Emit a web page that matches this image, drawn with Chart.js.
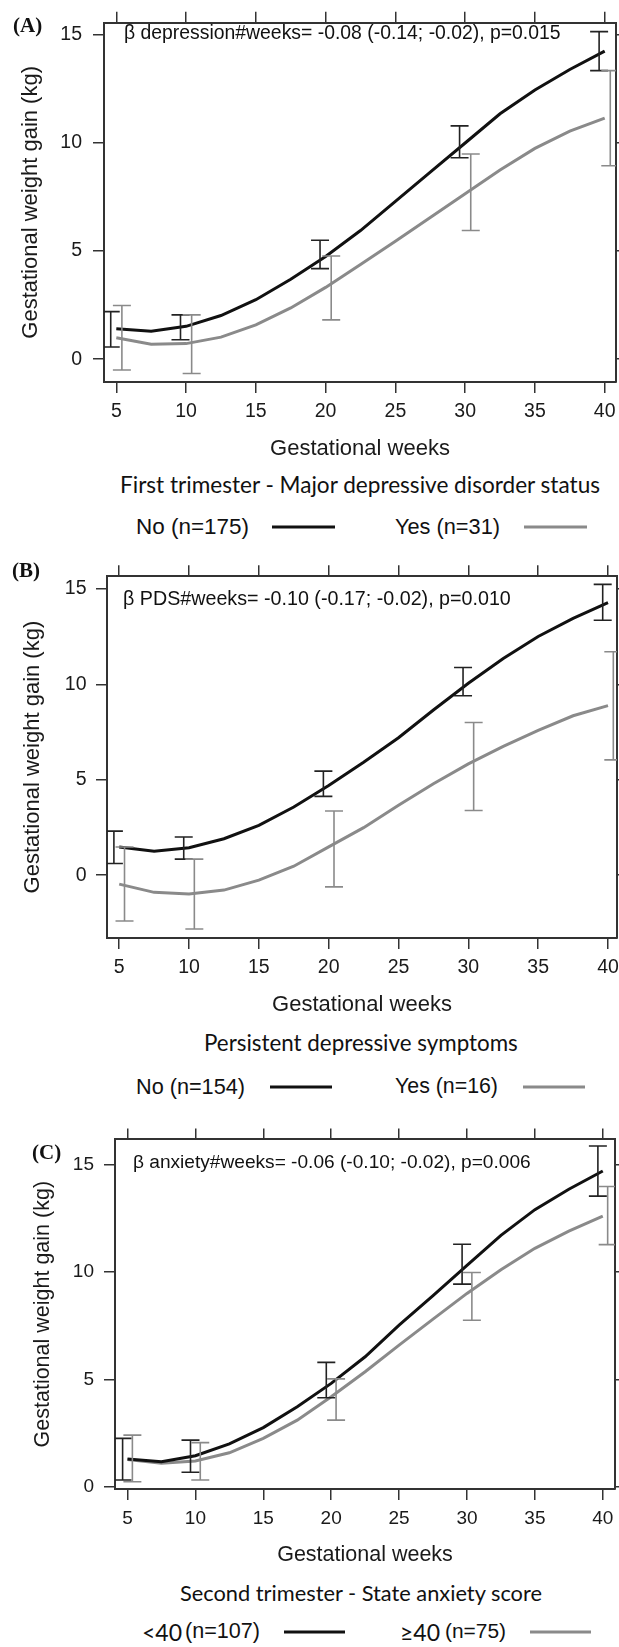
<!DOCTYPE html>
<html><head><meta charset="utf-8">
<script src="https://cdn.jsdelivr.net/npm/chart.js@4.4.1/dist/chart.umd.min.js"></script>
<style>
html,body{margin:0;padding:0;width:619px;height:1647px;overflow:hidden;background:#fff;}
canvas{position:absolute;left:0;}
.t{position:absolute;white-space:nowrap;line-height:1;color:#111;transform:translateY(-50%);font-family:'Liberation Sans',Arial,sans-serif;}
.lbl{font-family:'Liberation Serif','Times New Roman',serif;font-weight:bold;font-size:21px;}
.cal{font-family:Lato,'Open Sans',sans-serif;}
.ln{position:absolute;height:3px;transform:translateY(-50%);}
</style></head><body>
<canvas id="cA" width="627" height="462" style="top:0px"></canvas>
<canvas id="cB" width="628" height="463" style="top:555px"></canvas>
<canvas id="cC" width="626" height="450" style="top:1118px"></canvas>

<div class="t lbl" style="left:13px;top:25px">(A)</div>
<div class="t fit" data-w="437" style="left:124px;top:32.5px">β depression#weeks= -0.08 (-0.14; -0.02), p=0.015</div>
<div class="t cal fit" data-w="480" style="left:120px;top:485px">First trimester - Major depressive disorder status</div>
<div class="t fit" data-w="113" style="left:136px;top:527px">No (n=175)</div>
<div class="ln" style="left:272px;width:63px;top:527px;background:#111"></div>
<div class="t fit" data-w="105" style="left:395px;top:527px">Yes (n=31)</div>
<div class="ln" style="left:524px;width:63px;top:527px;background:#8a8a8a"></div>

<div class="t lbl" style="left:12px;top:570px">(B)</div>
<div class="t fit" data-w="388" style="left:123px;top:598.5px">β PDS#weeks= -0.10 (-0.17; -0.02), p=0.010</div>
<div class="t cal fit" data-w="314" style="left:204px;top:1043px">Persistent depressive symptoms</div>
<div class="t fit" data-w="109" style="left:136px;top:1087px">No (n=154)</div>
<div class="ln" style="left:270px;width:62px;top:1087px;background:#111"></div>
<div class="t fit" data-w="103" style="left:395px;top:1087px">Yes (n=16)</div>
<div class="ln" style="left:523px;width:62px;top:1087px;background:#8a8a8a"></div>

<div class="t lbl" style="left:32px;top:1152px">(C)</div>
<div class="t fit" data-w="398" style="left:133px;top:1162px">β anxiety#weeks= -0.06 (-0.10; -0.02), p=0.006</div>
<div class="t cal fit" data-w="362" style="left:180px;top:1593px">Second trimester - State anxiety score</div>
<div class="t cal" style="left:142px;top:1632px;font-size:23px">&lt;40</div>
<div class="t fit" data-w="75" style="left:185px;top:1631px">(n=107)</div>
<div class="ln" style="left:284px;width:61px;top:1632px;background:#111"></div>
<div class="t cal" style="left:400px;top:1632px;font-size:23px">≥40</div>
<div class="t fit" data-w="61" style="left:445px;top:1631px">(n=75)</div>
<div class="ln" style="left:530px;width:61px;top:1632px;background:#8a8a8a"></div>

<script>
// ---- data ----
const weeks = [5, 7.5, 10, 12.5, 15, 17.5, 20, 22.5, 25, 27.5, 30, 32.5, 35, 37.5, 40];
const barWeeks = [5, 10, 20, 30, 40];
const xTickValues = [5, 10, 15, 20, 25, 30, 35, 40];
const yTickValues = [0, 5, 10, 15];

// (A) First trimester - Major depressive disorder status
const aLabels = ['No (n=175)', 'Yes (n=31)'];
const aNo  = [1.41, 1.29, 1.52, 2.02, 2.75, 3.70, 4.75, 5.95, 7.3, 8.65, 10.0, 11.35, 12.45, 13.4, 14.25];
const aYes = [0.99, 0.69, 0.72, 1.02, 1.59, 2.37, 3.32, 4.38, 5.45, 6.55, 7.65, 8.75, 9.75, 10.55, 11.15];
const aNoLow   = [0.56, 0.9, 4.19, 9.32, 13.35];
const aNoHigh  = [2.2, 2.05, 5.5, 10.79, 15.15];
const aYesLow  = [-0.5, -0.66, 1.82, 5.95, 8.95];
const aYesHigh = [2.48, 2.05, 4.77, 9.49, 13.35];

// (B) Persistent depressive symptoms
const bLabels = ['No (n=154)', 'Yes (n=16)'];
const bNo  = [1.48, 1.25, 1.44, 1.91, 2.61, 3.57, 4.70, 5.92, 7.2, 8.65, 10.05, 11.35, 12.5, 13.45, 14.27];
const bYes = [-0.47, -0.9, -0.99, -0.78, -0.26, 0.47, 1.48, 2.49, 3.66, 4.79, 5.83, 6.75, 7.58, 8.35, 8.88];
const bNoLow   = [0.61, 0.84, 4.13, 9.4, 13.35];
const bNoHigh  = [2.31, 2.0, 5.45, 10.88, 15.23];
const bYesLow  = [-2.4, -2.82, -0.61, 3.39, 6.04];
const bYesHigh = [1.48, 0.84, 3.36, 8.0, 11.7];

// (C) Second trimester - State anxiety score
const cLabels = ['<40 (n=107)', '≥40 (n=75)'];
const cNo  = [1.29, 1.16, 1.44, 1.99, 2.75, 3.72, 4.81, 6.05, 7.52, 8.9, 10.3, 11.7, 12.9, 13.85, 14.7];
const cYes = [1.27, 1.09, 1.20, 1.58, 2.25, 3.1, 4.19, 5.35, 6.59, 7.8, 9.0, 10.1, 11.1, 11.9, 12.6];
const cNoLow   = [0.31, 0.67, 4.14, 9.43, 13.53];
const cNoHigh  = [2.25, 2.17, 5.79, 11.29, 15.86];
const cYesLow  = [0.23, 0.31, 3.1, 7.75, 11.27];
const cYesHigh = [2.4, 2.05, 5.02, 9.97, 13.98];

// ---- fit text widths ----
document.querySelectorAll('.fit').forEach(el => {
  el.style.fontSize = '100px';
  const w = el.getBoundingClientRect().width;
  el.style.fontSize = (100 * (+el.dataset.w) / w).toFixed(2) + 'px';
});

Chart.defaults.font.family = "'Liberation Sans', Arial, sans-serif";
Chart.defaults.color = '#1a1a1a';

const errorBarPlugin = {
  id: 'errbars',
  afterDatasetsDraw(chart) {
    const {ctx, chartArea: a, scales: {x, y}} = chart;
    ctx.save();
    ctx.beginPath();
    ctx.rect(a.left, a.top, a.right - a.left, a.bottom - a.top);
    ctx.clip();
    chart.data.datasets.forEach(ds => {
      ctx.strokeStyle = ds.errColor;
      ctx.lineWidth = 1.6;
      barWeeks.forEach((w, i) => {
        const px = x.getPixelForValue(w + ds.errOffset);
        const p1 = y.getPixelForValue(ds.errLow[i]);
        const p2 = y.getPixelForValue(ds.errHigh[i]);
        const c = 9;
        ctx.beginPath();
        ctx.moveTo(px, p1); ctx.lineTo(px, p2);
        ctx.moveTo(px - c, p1); ctx.lineTo(px + c, p1);
        ctx.moveTo(px - c, p2); ctx.lineTo(px + c, p2);
        ctx.stroke();
      });
    });
    ctx.restore();
  }
};

function makePanel(id, p) {
  const tickGrid = {drawOnChartArea: false, drawTicks: true, tickLength: 11, color: '#333', lineWidth: 1.5};
  const border = {display: true, color: '#333', width: 2};
  const xTicks = s => { s.ticks = xTickValues.map(v => ({value: v})); };
  const yTicks = s => { s.ticks = yTickValues.map(v => ({value: v})); };
  new Chart(document.getElementById(id), {
    type: 'line',
    data: {
      datasets: [
        {label: p.labels[0], data: weeks.map((w, i) => ({x: w, y: p.no[i]})),
         borderColor: '#111', borderWidth: 3, pointRadius: 0, tension: 0, order: 1,
         errLow: p.noLow, errHigh: p.noHigh, errOffset: -p.off, errColor: '#222'},
        {label: p.labels[1], data: weeks.map((w, i) => ({x: w, y: p.yes[i]})),
         borderColor: '#8a8a8a', borderWidth: 3, pointRadius: 0, tension: 0, order: 2,
         errLow: p.yesLow, errHigh: p.yesHigh, errOffset: p.off, errColor: '#8a8a8a'}
      ]
    },
    options: {
      responsive: false, animation: false, devicePixelRatio: 1,
      layout: {padding: {top: 9, left: 0, right: 0, bottom: 0}},
      plugins: {legend: {display: false}, tooltip: {enabled: false}},
      scales: {
        x: {type: 'linear', position: 'bottom', min: p.xmin, max: p.xmax,
            afterBuildTicks: xTicks, afterFit: s => { s.height = p.xh; },
            grid: tickGrid, border: border,
            ticks: {font: {size: p.tickSize}, padding: 7, maxRotation: 0, autoSkip: false},
            title: {display: true, text: 'Gestational weeks', font: {size: p.titleSize}, padding: {top: 0, bottom: 0}}},
        xTop: {type: 'linear', position: 'top', min: p.xmin, max: p.xmax,
            afterBuildTicks: xTicks, afterFit: s => { s.height = 11; },
            grid: tickGrid, border: border, ticks: {display: false}},
        y: {type: 'linear', position: 'left', min: p.ymin, max: p.ymax,
            afterBuildTicks: yTicks, afterFit: s => { s.width = p.yw; },
            grid: tickGrid, border: border,
            ticks: {font: {size: p.tickSize}, padding: p.ypad},
            title: {display: true, text: 'Gestational weight gain (kg)', font: {size: p.titleSize}, padding: {top: p.ytp, bottom: 0}}},
        yRight: {type: 'linear', position: 'right', min: p.ymin, max: p.ymax,
            afterBuildTicks: yTicks, afterFit: s => { s.width = 11; },
            grid: tickGrid, border: border, ticks: {display: false}}
      }
    },
    plugins: [errorBarPlugin]
  });
}

makePanel('cA', {labels: aLabels, no: aNo, yes: aYes, noLow: aNoLow, noHigh: aNoHigh, yesLow: aYesLow, yesHigh: aYesHigh,
  off: 0.4, xmin: 4.118, xmax: 40.81, ymin: -1.056, ymax: 15.565, xh: 80, yw: 104, ypad: 11, ytp: 17.8, tickSize: 19.5, titleSize: 22});
makePanel('cB', {labels: bLabels, no: bNo, yes: bYes, noLow: bNoLow, noHigh: bNoHigh, yesLow: bYesLow, yesHigh: bYesHigh,
  off: 0.38, xmin: 4.126, xmax: 40.644, ymin: -3.29, ymax: 15.66, xh: 80, yw: 107, ypad: 9.5, ytp: 19.4, tickSize: 19.5, titleSize: 22});
makePanel('cC', {labels: cLabels, no: cNo, yes: cYes, noLow: cNoLow, noHigh: cNoHigh, yesLow: cYesLow, yesHigh: cYesHigh,
  off: 0.36, xmin: 4.08, xmax: 40.9, ymin: -0.107, ymax: 16.17, xh: 79, yw: 115, ypad: 10, ytp: 30.5, tickSize: 19, titleSize: 21.5});
</script>
</body></html>
